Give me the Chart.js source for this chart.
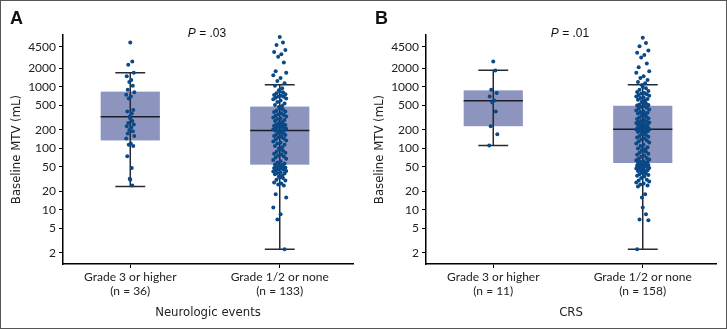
<!DOCTYPE html>
<html>
<head>
<meta charset="utf-8">
<script src="https://cdn.jsdelivr.net/npm/chart.js@4/dist/chart.umd.min.js"></script>
<style>
  body { margin:0; background:#fff; }
  #wrap { position:relative; width:727px; height:329px; }
  #wrap canvas { position:absolute; top:0; }
  #frame { position:absolute; left:0; top:0; width:727px; height:329px; box-sizing:border-box; border:1px solid #555; pointer-events:none; }
</style>
</head>
<body>
<div id="wrap">
  <canvas id="chartA" width="364" height="329" style="left:0"></canvas>
  <canvas id="chartB" width="364" height="329" style="left:363px"></canvas>
  <div id="frame"></div>
</div>
<script>
// y axis ticks (log scale)
const Y_TICKS = [2, 5, 10, 20, 50, 100, 200, 500, 1000, 2000, 4500];

// Panel A: neurologic events
const neuroLabels = [["Grade 3 or higher", "(n = 36)"], ["Grade 1/2 or none", "(n = 133)"]];
// box stats: [whiskerLow, q1, median, q3, whiskerHigh]
const neuroBoxes = [
  [24, 135, 327, 840, 1700],
  [2.3, 54.5, 195, 480, 1090]
];
const neuroHigh = [5300, 2600, 2300, 1700, 1500, 1300, 1200, 1050, 900, 820, 750, 700, 650, 420, 400, 370,
  330, 310, 280, 260, 245, 230, 220, 200, 190, 175, 160, 145, 120, 115, 110, 75, 48, 32, 31, 25];
const neuroLow = [6500, 5300, 4800, 4000, 3700, 3400, 3100, 2500, 1800, 1700, 1550, 1400, 1250, 1150,
  1050, 950, 880, 850, 820, 790, 760, 740, 720, 700, 690, 670, 650, 630, 600, 570, 540, 510, 490,
  470, 450, 430, 410, 400, 390, 375, 360, 350, 340, 330, 320, 310, 300, 290, 280, 270, 260, 255, 250,
  245, 240, 235, 230, 225, 220, 215, 210, 205, 200, 198, 196, 195,
  190, 185, 180, 175, 170, 165, 160, 155, 150, 145, 140, 135, 130, 125, 120, 115, 110, 105, 100, 96,
  92, 88, 85, 82, 80, 77, 74, 71, 68, 65, 62, 59, 57, 55,
  54, 53, 52, 51, 50, 49, 48, 47, 46, 45, 44, 43, 42, 41, 40, 39, 38, 36, 35, 34, 33, 31, 30, 28, 27,
  26, 25, 18, 16, 11, 8.5, 7, 2.3];

// Panel B: CRS
const crsLabels = [["Grade 3 or higher", "(n = 11)"], ["Grade 1/2 or none", "(n = 158)"]];
const crsBoxes = [
  [112, 230, 596, 880, 1876],
  [2.3, 58, 205, 495, 1090]
];
const crsHigh = [2600, 1850, 900, 800, 700, 600, 560, 400, 230, 170, 112];
const crsLow = [6300, 5200, 4600, 3900, 3600, 3300, 3000, 2400, 2100, 1800, 1700, 1500, 1400, 1300, 1200, 1150,
  1080, 1000, 950, 900, 860, 830, 800, 780, 760, 740, 720, 700, 680, 660, 640, 620, 600, 580, 560, 540, 520, 510, 500,
  490, 475, 460, 445, 430, 415, 400, 390, 380, 370, 360, 350, 340, 330, 320, 310, 300, 290, 280, 275, 270,
  265, 260, 255, 250, 245, 240, 235, 230, 226, 222, 218, 215, 212, 210, 208, 206, 205, 204, 203,
  200, 195, 190, 185, 180, 175, 170, 165, 160, 155, 150, 145, 140, 135, 130, 125, 120, 115, 110, 105,
  100, 97, 94, 91, 88, 85, 82, 79, 76, 73, 70, 68, 66, 64, 62, 61, 60, 59, 58.5, 58,
  57, 56, 55, 54, 53, 52, 51, 50, 49, 48, 47, 46, 45, 44, 43, 42, 41, 40, 39, 38, 37, 36, 35, 33, 31,
  30, 29, 28, 27, 26, 25, 24, 18, 16, 11, 8.5, 7, 6.8, 2.3];

// horizontal spread pattern for the dots (x units)
const JITTER = [0, 0.027, -0.027, 0.047, -0.047, 0.013, -0.013, 0.034, -0.034, 0.054, -0.054, 0.007, -0.02, 0.04, -0.04, 0.02, -0.007];

const BOX_FILL = "#8d95be";
const DOT = "#0a4886";
const narrow = "'DejaVu Sans Condensed', 'Liberation Sans Narrow', 'Roboto', sans-serif";

function dots(values, center, scale){
  return values.map((v,i)=>({x:center + JITTER[i % JITTER.length]*scale, y:v}));
}

const boxPlugin = {
  id:"boxes",
  beforeDatasetsDraw(chart){
    const {ctx, scales:{x, y}} = chart;
    const boxes = chart.options.plugins.boxes.stats;
    boxes.forEach((b,i)=>{
      const c = x.getPixelForValue(i+1);
      const half = x.getPixelForValue(i+1+0.198) - c;
      const cap = x.getPixelForValue(i+1+0.1) - c;
      const [lo, q1, med, q3, hi] = b.map(v=>y.getPixelForValue(v));
      ctx.save();
      ctx.fillStyle = BOX_FILL;
      ctx.fillRect(c-half, q3, half*2, q1-q3);
      ctx.strokeStyle = "#262a34";
      ctx.lineWidth = 1.5;
      ctx.beginPath();
      ctx.moveTo(c, lo); ctx.lineTo(c, hi);
      ctx.moveTo(c-cap, lo); ctx.lineTo(c+cap, lo);
      ctx.moveTo(c-cap, hi); ctx.lineTo(c+cap, hi);
      ctx.stroke();
      ctx.strokeStyle = "#1a1d28";
      ctx.lineWidth = 1.5;
      ctx.beginPath();
      ctx.moveTo(c-half, med); ctx.lineTo(c+half, med);
      ctx.stroke();
      ctx.restore();
    });
  },
  afterDraw(chart){
    const {ctx} = chart;
    const o = chart.options.plugins.boxes;
    ctx.save();
    ctx.fillStyle = "#111";
    ctx.font = "bold 18px 'Liberation Sans', Arial, sans-serif";
    ctx.textBaseline = "middle";
    ctx.fillText(o.letter, o.letterX, 19);
    const rest = " = " + o.p;
    ctx.font = "italic 12px 'Liberation Sans', Arial, sans-serif";
    const wP = ctx.measureText("P").width;
    ctx.font = "12px 'Liberation Sans', Arial, sans-serif";
    const wR = ctx.measureText(rest).width;
    const sx = 207 - (wP + wR)/2;
    ctx.font = "italic 12px 'Liberation Sans', Arial, sans-serif";
    ctx.fillText("P", sx, 34);
    ctx.font = "12px 'Liberation Sans', Arial, sans-serif";
    ctx.fillText(rest, sx + wP, 34);
    ctx.restore();
  }
};

function makeChart(id, labels, boxes, high, low, xTitle, letter, letterX, p){
  new Chart(document.getElementById(id), {
    type:"scatter",
    data:{datasets:[
      {data:dots(high, 1, 0.5), backgroundColor:DOT, borderColor:DOT, pointRadius:2, borderWidth:0, clip:false},
      {data:dots(low, 2, 0.8), backgroundColor:DOT, borderColor:DOT, pointRadius:2, borderWidth:0, clip:false}
    ]},
    options:{
      responsive:false,
      animation:false,
      layout:{padding:{top:35, right:11, left:0, bottom:0}},
      plugins:{
        legend:{display:false},
        tooltip:{enabled:false},
        boxes:{stats:boxes, letter, letterX, p}
      },
      scales:{
        x:{
          type:"linear", min:0.55, max:2.49,
          afterBuildTicks:s=>{ s.ticks = [{value:1},{value:2}]; },
          afterFit:s=>{ s.height = 65; },
          ticks:{
            callback:(v)=>labels[v-1],
            color:"#222", font:{size:12, family:"'Lato', sans-serif"}, padding:2, maxRotation:0
          },
          grid:{display:true, drawOnChartArea:false, drawTicks:true, tickLength:4, color:"#000"},
          border:{display:true, color:"#000", width:1.5},
          title:{display:true, text:xTitle, color:"#222", font:{size:13, family:narrow}, padding:{top:4, bottom:9}}
        },
        y:{
          type:"logarithmic", min:1.32, max:7000,
          afterBuildTicks:s=>{ s.ticks = Y_TICKS.map(v=>({value:v})); },
          afterFit:s=>{ s.width = 63; },
          ticks:{callback:(v)=>String(v), color:"#222", font:{size:12, family:"'Lato', sans-serif"}, padding:3},
          grid:{display:true, drawOnChartArea:false, drawTicks:true, tickLength:4, color:"#000"},
          border:{display:true, color:"#000", width:1.5},
          title:{display:true, text:"Baseline MTV (mL)", color:"#222", font:{size:13, family:narrow}, padding:{top:9, bottom:4}}
        }
      }
    },
    plugins:[boxPlugin]
  });
}

makeChart("chartA", neuroLabels, neuroBoxes, neuroHigh, neuroLow, "Neurologic events", "A", 10, ".03");
makeChart("chartB", crsLabels, crsBoxes, crsHigh, crsLow, "CRS", "B", 12, ".01");
</script>
</body>
</html>
